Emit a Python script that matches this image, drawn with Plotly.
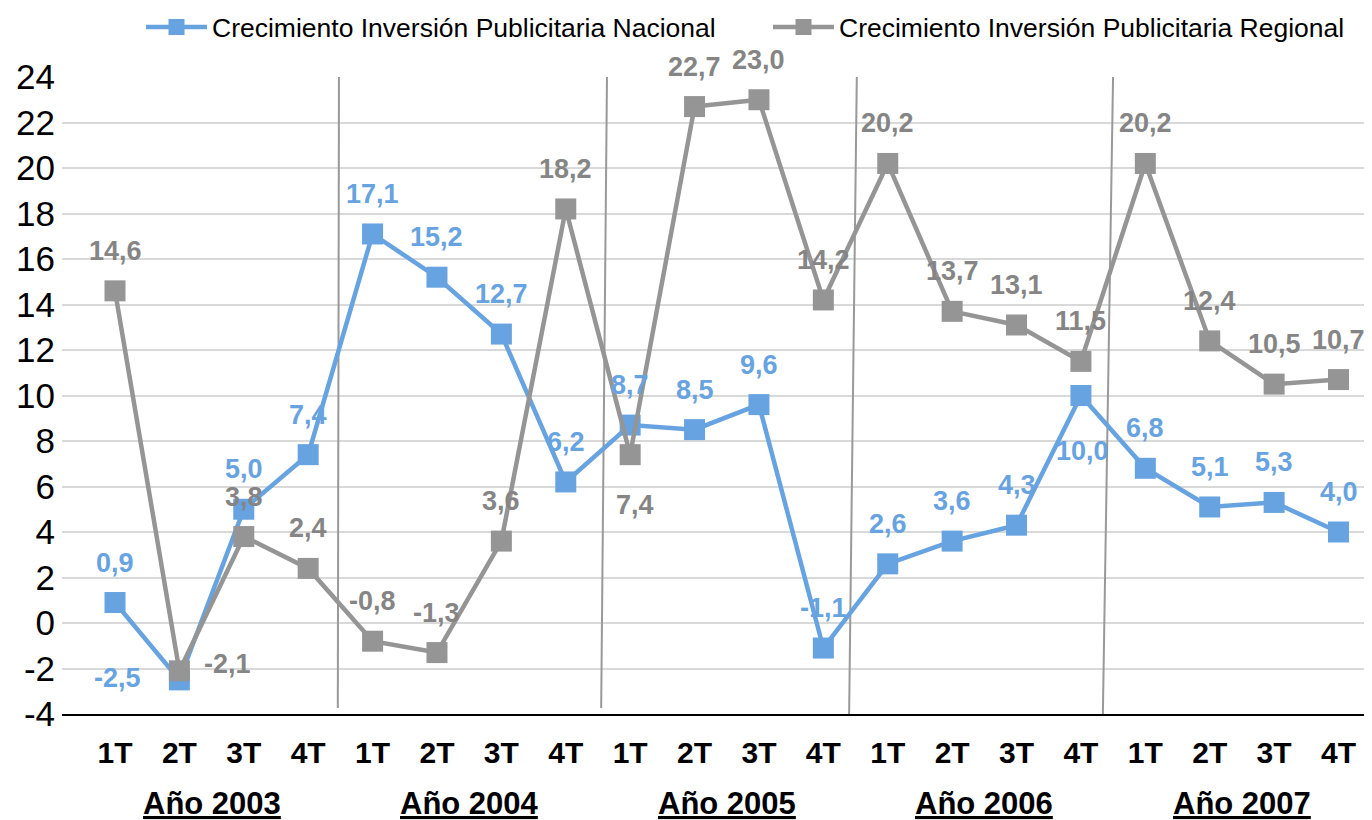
import plotly.graph_objects as go

quarters = ["1T", "2T", "3T", "4T"] * 5
years = ["Año 2003", "Año 2004", "Año 2005", "Año 2006", "Año 2007"]
nacional = [0.9, -2.5, 5.0, 7.4, 17.1, 15.2, 12.7, 6.2, 8.7, 8.5, 9.6, -1.1,
            2.6, 3.6, 4.3, 10.0, 6.8, 5.1, 5.3, 4.0]
regional = [14.6, -2.1, 3.8, 2.4, -0.8, -1.3, 3.6, 18.2, 7.4, 22.7, 23.0, 14.2,
            20.2, 13.7, 13.1, 11.5, 20.2, 12.4, 10.5, 10.7]
y_ticks = list(range(-4, 25, 2))
y_ticktext = [str(v) for v in y_ticks]  # plain hyphen minus, as in the original

BLUE = "#67A3E0"
GREY = "#959595"
GREY_TXT = "#858585"
FONT = "Liberation Sans, Arial, sans-serif"

x_idx = list(range(len(quarters)))

fig = go.Figure()
fig.add_trace(go.Scatter(
    x=x_idx, y=nacional, mode="lines+markers",
    name="Crecimiento Inversión Publicitaria Nacional",
    line=dict(color=BLUE, width=4.5),
    marker=dict(symbol="square", size=21, color=BLUE),
))
fig.add_trace(go.Scatter(
    x=x_idx, y=regional, mode="lines+markers",
    name="Crecimiento Inversión Publicitaria Regional",
    line=dict(color=GREY, width=4.5),
    marker=dict(symbol="square", size=21, color=GREY),
))

# label placement (pixel offsets); default = above the point
default_shift = (0, 40)
nac_shift = {1: (-62, 2), 15: (2, -55)}
reg_shift = {1: (48, 7), 8: (5, -50)}

def fmt(v):
    return f"{v:.1f}".replace(".", ",")

annotations = []
for series, color, shifts in ((regional, GREY_TXT, reg_shift), (nacional, BLUE, nac_shift)):
    for i, v in enumerate(series):
        dx, dy = shifts.get(i, default_shift)
        annotations.append(dict(
            x=i, y=v, xref="x", yref="y", text=fmt(v), showarrow=False,
            xshift=dx, yshift=dy, xanchor="center", yanchor="middle",
            font=dict(family=FONT, size=27, color=color, weight="bold"),
        ))

for k, yr in enumerate(years):
    annotations.append(dict(
        x=4 * k + 1.5, y=0, xref="x", yref="paper", yshift=-89,
        text=f"<u>{yr}</u>", showarrow=False, xanchor="center", yanchor="middle",
        font=dict(family=FONT, size=31, color="#000000", weight="bold"),
    ))

# year separator lines (slightly slanted, as in the original)
sep_top = [3.478, 7.64, 11.52, 15.50]
sep_bot = [3.46, 7.55, 11.40, 15.34]
sep_y_top = [24.0, 24.0, 24.15, 24.2]
sep_y_bot = [-3.74, -3.74, -4.05, -4.1]
shapes = []
for xt, xb, yt, yb in zip(sep_top, sep_bot, sep_y_top, sep_y_bot):
    shapes.append(dict(type="line", xref="x", yref="y", x0=xt, y0=yt, x1=xb, y1=yb,
                       line=dict(color="#999999", width=2), layer="between"))

# the page body adds an 8px offset, so the figure is 8px smaller
fig.update_layout(
    width=1364, height=812,
    margin=dict(l=54, r=0, t=69, b=106, autoexpand=False),
    paper_bgcolor="white", plot_bgcolor="white",
    font=dict(family=FONT, color="#000000"),
    showlegend=True,
    legend=dict(orientation="h", x=79 / 1310, xanchor="left", y=1.078, yanchor="middle",
                font=dict(family=FONT, size=26.5, color="#000000"),
                entrywidth=551, entrywidthmode="pixels",
                itemwidth=61, tracegroupgap=0, bgcolor="rgba(0,0,0,0)"),
    annotations=annotations,
    shapes=shapes,
)
fig.update_xaxes(
    range=[-0.823, 19.52], tickvals=x_idx, ticktext=quarters,
    showgrid=False, zeroline=False, showline=True, linecolor="#000000", linewidth=2,
    ticks="", ticklabelstandoff=11,
    tickfont=dict(family=FONT, size=30, color="#000000", weight="bold"),
)
fig.update_yaxes(
    range=[-4, 24], tickvals=y_ticks, ticktext=y_ticktext,
    showgrid=True, gridcolor="#D9D9D9", gridwidth=1.5,
    zeroline=False, showline=False, ticks="", ticklabelstandoff=6,
    tickfont=dict(family=FONT, size=35, color="#000000"),
)

fig.write_html("out.html")
